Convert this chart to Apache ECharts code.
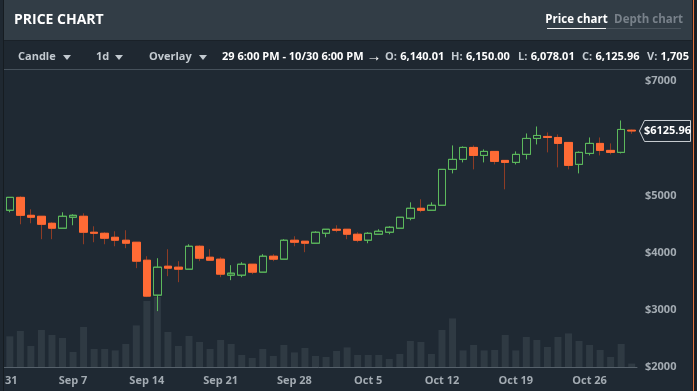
<!DOCTYPE html>
<html><head><meta charset="utf-8">
<script src="https://cdn.jsdelivr.net/npm/echarts@6/dist/echarts.min.js"></script>
<style>html,body{margin:0;padding:0;background:#1f2933;overflow:hidden}#c{width:697px;height:391px}</style>
</head><body><div id="c"></div>
<script>
const dates = ["Aug 31","Sep 1","Sep 2","Sep 3","Sep 4","Sep 5","Sep 6","Sep 7","Sep 8","Sep 9","Sep 10",
"Sep 11","Sep 12","Sep 13","Sep 14","Sep 15","Sep 16","Sep 17","Sep 18","Sep 19","Sep 20",
"Sep 21","Sep 22","Sep 23","Sep 24","Sep 25","Sep 26","Sep 27","Sep 28","Sep 29","Sep 30",
"Oct 1","Oct 2","Oct 3","Oct 4","Oct 5","Oct 6","Oct 7","Oct 8","Oct 9","Oct 10",
"Oct 11","Oct 12","Oct 13","Oct 14","Oct 15","Oct 16","Oct 17","Oct 18","Oct 19","Oct 20",
"Oct 21","Oct 22","Oct 23","Oct 24","Oct 25","Oct 26","Oct 27","Oct 28","Oct 29","Oct 30"];
const open  = [null,4740,4966,4652,4635,4513,4426,4618,4635,4356,4338,4268,4216,4181,3867,3256,3762,3745,3710,4111,3919,
3885,3605,3605,3797,3658,3937,3885,4216,4199,4164,4338,4408,4408,4321,4216,4321,4356,4426,4600,4775,
4740,4827,5455,5630,5839,5699,5769,5612,5577,5717,5996,6031,6013,5926,5542,5734,5909,5787,5752,6140.01];
const high  = [null,4966,4984,4757,4635,4530,4705,4670,4687,4460,4356,4373,4391,4181,3937,3902,4059,3850,4146,4129,4059,
3919,3780,3832,3797,3972,3972,4234,4286,4199,4373,4408,4478,4408,4356,4356,4408,4460,4618,4879,4932,
4879,5455,5874,5856,5874,5804,5769,5612,5769,6083,6205,6101,6066,5926,5769,6013,6013,5909,6310,6150.00];
const low   = [null,4705,4495,4513,4234,4234,4426,4478,4146,4181,4146,4111,4077,3728,3222,2977,3588,3483,3710,3850,3867,
3570,3518,3570,3623,3658,3850,3885,4111,4007,4164,4268,4356,4234,4181,4164,4321,4321,4426,4565,4705,
4740,4827,5385,5577,5455,5577,5542,5106,5542,5630,5891,5752,5490,5455,5385,5699,5699,5717,5734,6078.01];
const close = [null,4966,4652,4618,4495,4426,4635,4652,4356,4338,4251,4216,4164,3850,3239,3745,3728,3710,4111,3902,3867,
3623,3640,3797,3658,3937,3885,4216,4181,4164,4356,4408,4391,4321,4216,4338,4373,4443,4618,4775,4740,
4827,5455,5630,5839,5699,5769,5595,5577,5717,5996,6048,6013,5909,5525,5752,5909,5787,5752,6153,6125.96];
const volume = [null,15350,18000,10500,18500,16000,14500,7500,20000,9000,9000,8300,11500,20800,33000,35000,17500,10500,15500,12500,9000,
13500,11500,6000,4500,9000,5500,11000,7300,9500,5500,5000,8000,9800,6000,6000,6000,4000,6500,13000,12500,
6500,18500,24300,8300,11000,8300,8500,16000,8300,15000,13500,10000,15000,16800,13000,11000,8500,5000,11500,1705];
const priceTicks = [2000,3000,4000,5000,6000,7000];
const rangeText = "29 6:00 PM - 10/30 6:00 PM \u2192";

const FONT = "'Open Sans', 'Noto Sans', sans-serif";
const GREEN = '#5cb85c', ORANGE = '#ff6b35', WICK_DN = '#8e3c25';
const last = close.length - 1;
const lastClose = close[last];

const fullData = dates.map((d, i) => open[i] == null ? ['-','-','-','-'] : [open[i], close[i], low[i], high[i]]);
const bodyData = dates.map((d, i) => open[i] == null ? ['-','-','-','-'] :
  [open[i], close[i], Math.min(open[i], close[i]), Math.max(open[i], close[i])]);
const volData = volume.map(v => v == null ? '-' : v);

const chart = echarts.init(document.getElementById('c'), null, {renderer: 'canvas'});
const gridL = -6, gridR = 60;
chart.setOption({
  animation: false,
  backgroundColor: '#1f2933',
  grid: [
    {left: gridL, right: gridR, top: 81, bottom: 24, outerBoundsMode: 'none', containLabel: false},
    {left: gridL, right: gridR, top: 267, bottom: 24, outerBoundsMode: 'none', containLabel: false}
  ],
  xAxis: [
    {type: 'category', gridIndex: 0, data: dates, boundaryGap: true,
     axisLine: {lineStyle: {color: '#56616b', width: 1}},
     axisTick: {interval: 6, alignWithLabel: true, length: 4, lineStyle: {color: '#56616b'}},
     axisLabel: {interval: 6, color: '#a3abb2', fontFamily: FONT, fontWeight: 'bold', fontSize: 11, margin: 8},
     splitLine: {show: false}},
    {type: 'category', gridIndex: 1, data: dates, boundaryGap: true, show: false}
  ],
  yAxis: [
    {type: 'value', gridIndex: 0, position: 'right', min: priceTicks[0], max: priceTicks[priceTicks.length-1], interval: 1000,
     axisLine: {show: false}, axisTick: {show: false}, splitLine: {show: false},
     axisLabel: {color: '#a3abb2', fontFamily: FONT, fontWeight: 'bold', fontSize: 11, margin: 8,
       formatter: v => Math.abs(v - lastClose) < 300 ? '' : '$' + v}},
    {type: 'value', gridIndex: 1, min: 0, max: 50000, show: false}
  ],
  series: [
    {type: 'bar', xAxisIndex: 1, yAxisIndex: 1, data: volData, barWidth: 7, z: 1,
     itemStyle: {color: '#2f3a43'}, emphasis: {disabled: true}, silent: true},
    {type: 'candlestick', xAxisIndex: 0, yAxisIndex: 0, data: fullData, barWidth: 8, z: 3,
     itemStyle: {color: 'rgba(0,0,0,0)', color0: WICK_DN, borderColor: GREEN, borderColor0: WICK_DN, borderWidth: 1},
     emphasis: {disabled: true}, silent: true},
    {type: 'candlestick', xAxisIndex: 0, yAxisIndex: 0, data: bodyData, barWidth: 8, z: 4,
     itemStyle: {color: 'rgba(0,0,0,0)', color0: ORANGE, borderColor: GREEN, borderColor0: ORANGE, borderWidth: 1},
     emphasis: {disabled: true}, silent: true}
  ]
});

const fmt2 = v => v.toLocaleString('en-US', {minimumFractionDigits: 2, maximumFractionDigits: 2});
const yTag = chart.convertToPixel({yAxisIndex: 0}, lastClose);
const txt = (x, y, text, opt) => Object.assign({type: 'text', x: x, y: y, z: 100,
  style: Object.assign({text: text, fill: '#ffffff', font: 'bold 11px ' + FONT, verticalAlign: 'middle'}, opt || {})});
const tri = (x, y) => ({type: 'polygon', z: 100, shape: {points: [[x, y], [x + 8, y], [x + 4, y + 5]]}, style: {fill: '#c3cad0'}});
const ohlc = (x, label, value) => ({type: 'text', x: x, y: 57, z: 100,
  style: {text: '{l|' + label + '} {v|' + value + '}', verticalAlign: 'middle',
    rich: {l: {fill: '#c3cad0', font: 'bold 11px ' + FONT}, v: {fill: '#ffffff', font: 'bold 11px ' + FONT}}}});

chart.setOption({
  graphic: [
    {type: 'rect', z: 90, shape: {x: 0, y: 0, width: 697, height: 41}, style: {fill: '#323d46'}},
    {type: 'rect', z: 90, shape: {x: 0, y: 41, width: 697, height: 28}, style: {fill: '#1f2831'}},
    {type: 'rect', z: 91, shape: {x: 0, y: 40, width: 697, height: 1}, style: {fill: '#1a2128'}},
    {type: 'rect', z: 91, shape: {x: 3, y: 69, width: 689, height: 1}, style: {fill: '#46515b'}},
    {type: 'rect', z: 95, shape: {x: 0, y: 0, width: 3, height: 391}, style: {fill: '#1f2831'}},
    {type: 'rect', z: 95, shape: {x: 3, y: 0, width: 1, height: 391}, style: {fill: '#161c21'}},
    {type: 'rect', z: 95, shape: {x: 692, y: 0, width: 5, height: 391}, style: {fill: '#1a2026'}},
    {type: 'rect', z: 96, shape: {x: 693, y: 0, width: 1, height: 391}, style: {fill: '#e8753f'}},
    txt(14, 20, 'PRICE CHART', {font: 'bold 14px ' + FONT}),
    txt(576.5, 20, 'Price chart', {font: 'bold 11.5px ' + FONT, align: 'center'}),
    {type: 'rect', z: 100, shape: {x: 547, y: 28, width: 59, height: 1}, style: {fill: '#f0f0f0'}},
    txt(648.5, 20, 'Depth chart', {font: 'bold 11.5px ' + FONT, fill: '#78818a', align: 'center'}),
    {type: 'rect', z: 100, shape: {x: 606, y: 28, width: 75, height: 1}, style: {fill: '#4a545d'}},
    txt(18, 57, 'Candle', {fill: '#c3cad0'}), tri(63, 55),
    txt(96, 57, '1d', {fill: '#c3cad0'}), tri(115, 55),
    txt(149, 57, 'Overlay', {fill: '#c3cad0'}), tri(199, 55),
    {type: 'text', x: 222, y: 57, z: 100,
     style: {text: rangeText.replace('\u2192', '{a|\u2192}'), fill: '#ffffff', font: 'bold 11px ' + FONT, verticalAlign: 'middle',
       rich: {a: {fill: '#ffffff', font: 'bold 15px ' + FONT}}}},
    ohlc(385, 'O:', fmt2(open[last])),
    ohlc(451, 'H:', fmt2(high[last])),
    ohlc(518, 'L:', fmt2(low[last])),
    ohlc(582, 'C:', fmt2(close[last])),
    ohlc(647, 'V:', volume[last].toLocaleString('en-US')),
    {type: 'polygon', z: 100, shape: {points: [[639.5, yTag], [644.5, yTag - 10.5], [690.5, yTag - 10.5], [690.5, yTag + 10.5], [644.5, yTag + 10.5]]},
     style: {fill: '#1f2933', stroke: '#c9ced3', lineWidth: 1}},
    {type: 'text', z: 101, x: 667.5, y: yTag, style: {text: '$' + lastClose, fill: '#ffffff', font: 'bold 11px ' + FONT, align: 'center', verticalAlign: 'middle'}}
  ]
});
</script></body></html>
